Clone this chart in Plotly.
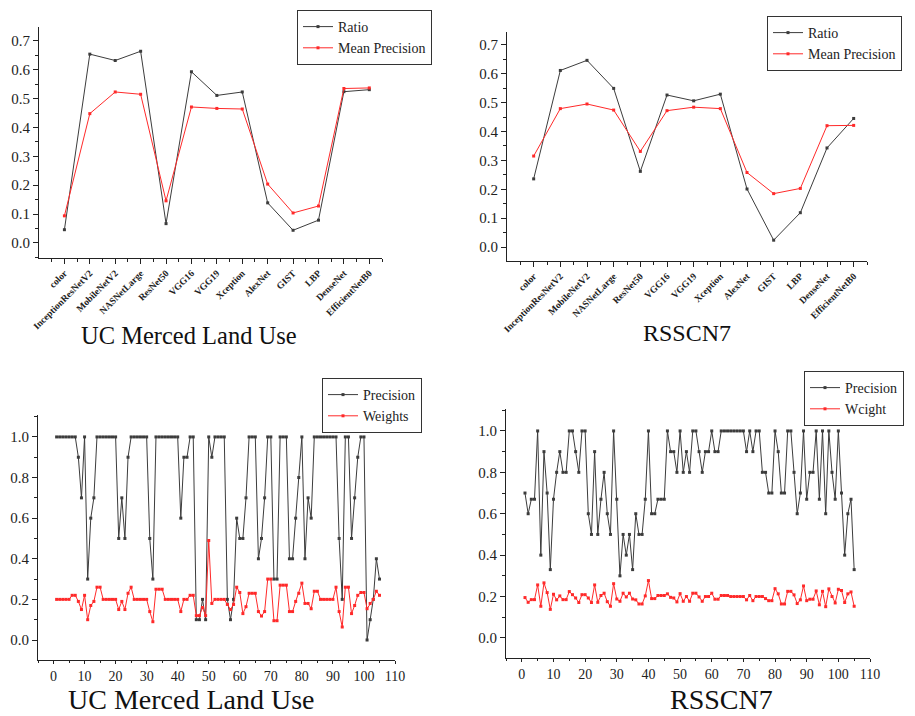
import plotly.graph_objects as go

# ---------------- data ----------------
categories = ["color", "InceptionResNetV2", "MobileNetV2", "NASNetLarge", "ResNet50",
              "VGG16", "VGG19", "Xception", "AlexNet", "GIST", "LBP", "DenseNet",
              "EfficientNetB0"]

ucm_ratio = [0.046, 0.654, 0.632, 0.664, 0.067, 0.593, 0.511, 0.523, 0.139, 0.044, 0.079, 0.524, 0.531]
ucm_mean_precision = [0.094, 0.448, 0.523, 0.515, 0.146, 0.471, 0.466, 0.464, 0.204, 0.104, 0.128, 0.535, 0.537]

rsscn7_ratio = [0.236, 0.611, 0.646, 0.549, 0.262, 0.526, 0.506, 0.529, 0.201, 0.024, 0.119, 0.343, 0.445]
rsscn7_mean_precision = [0.315, 0.479, 0.495, 0.474, 0.331, 0.472, 0.484, 0.479, 0.258, 0.185, 0.203, 0.420, 0.421]

sample_index = list(range(1, 106))

ucm_precision = [
    1.0, 1.0, 1.0, 1.0, 1.0, 1.0, 1.0, 0.9, 0.7, 1.0,
    0.3, 0.6, 0.7, 1.0, 1.0, 1.0, 1.0, 1.0, 1.0, 1.0,
    0.5, 0.7, 0.5, 0.9, 1.0, 1.0, 1.0, 1.0, 1.0, 1.0,
    0.5, 0.3, 1.0, 1.0, 1.0, 1.0, 1.0, 1.0, 1.0, 1.0,
    0.6, 0.9, 0.9, 1.0, 1.0, 0.1, 0.1, 0.2, 0.1, 1.0,
    0.9, 1.0, 1.0, 1.0, 1.0, 0.2, 0.1, 0.2, 0.6, 0.5,
    0.5, 0.7, 1.0, 1.0, 1.0, 0.4, 0.5, 0.7, 1.0, 1.0,
    0.3, 0.3, 1.0, 1.0, 1.0, 0.4, 0.4, 0.6, 0.8, 1.0,
    0.4, 0.7, 0.6, 1.0, 1.0, 1.0, 1.0, 1.0, 1.0, 1.0,
    1.0, 0.5, 0.2, 1.0, 1.0, 0.5, 0.7, 0.9, 1.0, 1.0,
    0.0, 0.1, 0.2, 0.4, 0.3]

ucm_weights = [
    0.20, 0.20, 0.20, 0.20, 0.20, 0.22, 0.22, 0.19, 0.15, 0.22,
    0.10, 0.17, 0.19, 0.26, 0.26, 0.20, 0.20, 0.20, 0.20, 0.20,
    0.15, 0.19, 0.15, 0.23, 0.26, 0.20, 0.20, 0.20, 0.20, 0.20,
    0.14, 0.09, 0.25, 0.25, 0.25, 0.20, 0.20, 0.20, 0.20, 0.20,
    0.14, 0.20, 0.20, 0.22, 0.22, 0.12, 0.12, 0.16, 0.12, 0.49,
    0.18, 0.20, 0.20, 0.20, 0.20, 0.175, 0.15, 0.175, 0.26, 0.234,
    0.13, 0.164, 0.23, 0.23, 0.23, 0.14, 0.118, 0.14, 0.30, 0.30,
    0.095, 0.095, 0.27, 0.27, 0.27, 0.14, 0.14, 0.19, 0.23, 0.28,
    0.18, 0.18, 0.154, 0.24, 0.24, 0.20, 0.20, 0.20, 0.20, 0.20,
    0.26, 0.14, 0.064, 0.26, 0.26, 0.13, 0.17, 0.22, 0.234, 0.234,
    0.154, 0.18, 0.20, 0.24, 0.22]

rsscn7_precision = [
    0.7, 0.6, 0.67, 0.67, 1.0, 0.4, 0.9, 0.7, 0.33, 0.67,
    0.8, 0.9, 0.8, 0.8, 1.0, 1.0, 0.9, 0.8, 1.0, 1.0,
    0.6, 0.5, 0.9, 0.5, 0.67, 0.8, 0.6, 0.5, 1.0, 0.67,
    0.3, 0.5, 0.4, 0.5, 0.33, 0.6, 0.5, 0.5, 0.67, 1.0,
    0.6, 0.6, 0.67, 0.67, 0.67, 1.0, 0.9, 0.9, 0.8, 1.0,
    0.8, 0.9, 0.8, 1.0, 1.0, 0.9, 0.8, 0.9, 0.9, 1.0,
    0.9, 0.9, 1.0, 1.0, 1.0, 1.0, 1.0, 1.0, 1.0, 1.0,
    0.9, 1.0, 0.9, 1.0, 1.0, 0.8, 0.8, 0.7, 0.7, 1.0,
    0.9, 0.7, 0.7, 1.0, 1.0, 0.8, 0.6, 0.7, 1.0, 0.67,
    0.8, 0.8, 1.0, 0.67, 1.0, 0.6, 1.0, 0.8, 0.67, 1.0,
    0.7, 0.4, 0.6, 0.67, 0.33]

rsscn7_weights = [
    0.195, 0.172, 0.185, 0.185, 0.256, 0.153, 0.266, 0.219, 0.138, 0.211,
    0.184, 0.203, 0.185, 0.185, 0.224, 0.209, 0.193, 0.171, 0.209, 0.209,
    0.193, 0.171, 0.256, 0.172, 0.205, 0.216, 0.175, 0.153, 0.262, 0.188,
    0.177, 0.216, 0.198, 0.216, 0.188, 0.184, 0.164, 0.164, 0.203, 0.277,
    0.190, 0.190, 0.205, 0.205, 0.205, 0.213, 0.196, 0.193, 0.174, 0.214,
    0.177, 0.200, 0.177, 0.216, 0.216, 0.198, 0.177, 0.200, 0.200, 0.216,
    0.187, 0.187, 0.205, 0.205, 0.205, 0.200, 0.200, 0.200, 0.200, 0.200,
    0.184, 0.205, 0.180, 0.200, 0.200, 0.200, 0.190, 0.180, 0.180, 0.238,
    0.213, 0.164, 0.164, 0.225, 0.225, 0.208, 0.166, 0.184, 0.251, 0.180,
    0.187, 0.187, 0.227, 0.160, 0.225, 0.151, 0.237, 0.200, 0.169, 0.235,
    0.229, 0.171, 0.213, 0.222, 0.153]

# ---------------- styling ----------------
OFF = 8                      # page body margin of the html page
W, H = 915 - OFF, 716 - OFF  # figure size that fits the window
SERIF = "Liberation Serif"
BLACK = "#3c3c3c"
RED = "#ff2a2a"

def fx(px):
    return (px - OFF) / W

def fy(py):
    return 1 - (py - OFF) / H

def px_x(a, b):
    return [fx(a), fx(b)]

def px_y(top, bottom):
    return [fy(bottom), fy(top)]

cat_pos = list(range(len(categories)))

fig = go.Figure()

def add_series(x, y, name, color, xa, ya, legend):
    fig.add_trace(go.Scatter(
        x=x, y=y, name=name, mode="lines+markers",
        line=dict(color=color, width=1),
        marker=dict(symbol="square", size=3, color=color),
        xaxis=xa, yaxis=ya, legend=legend))

add_series(cat_pos, ucm_ratio, "Ratio", BLACK, "x", "y", "legend")
add_series(cat_pos, ucm_mean_precision, "Mean Precision", RED, "x", "y", "legend")
add_series(cat_pos, rsscn7_ratio, "Ratio", BLACK, "x2", "y2", "legend2")
add_series(cat_pos, rsscn7_mean_precision, "Mean Precision", RED, "x2", "y2", "legend2")
add_series(sample_index, ucm_precision, "Precision", BLACK, "x3", "y3", "legend3")
add_series(sample_index, ucm_weights, "Weights", RED, "x3", "y3", "legend3")
add_series(sample_index, rsscn7_precision, "Precision", BLACK, "x4", "y4", "legend4")
add_series(sample_index, rsscn7_weights, "Wcight", RED, "x4", "y4", "legend4")

axis_common = dict(showline=True, linecolor="#222", linewidth=1, showgrid=False,
                   zeroline=False, ticks="outside", ticklen=5, tickcolor="#222",
                   automargin=False,
                   tickfont=dict(family=SERIF, size=15, color="#222"))

cat_axis = dict(axis_common, range=[-1, 12.5], tickmode="array", tickvals=cat_pos,
                ticktext=categories, tickangle=-45,
                tickfont=dict(family=SERIF, size=9.5, color="#222", weight="bold"),
                minor=dict(ticks="outside", ticklen=3, tickcolor="#222",
                           tickmode="array", tickvals=[p - 0.5 for p in cat_pos] + [12.5]))

ratio_y = dict(axis_common, tickmode="linear", tick0=0, dtick=0.1, tickformat=".1f",
               minor=dict(ticks="outside", ticklen=3, tickcolor="#222", dtick=0.05))

idx_x = dict(axis_common, range=[-5, 110], tickmode="linear", tick0=0, dtick=10,
             ticklen=3, tickfont=dict(family=SERIF, size=14, color="#222"),
             minor=dict(ticks="outside", ticklen=2, tickcolor="#222", dtick=5))

prec_y = dict(axis_common, tickmode="linear", tick0=0, dtick=0.2, tickformat=".1f",
              minor=dict(ticks="outside", ticklen=3, tickcolor="#222", dtick=0.1))

legend_common = dict(bgcolor="white", bordercolor="#333", borderwidth=1,
                     font=dict(family=SERIF, size=14, color="#222"),
                     xanchor="left", yanchor="top", tracegroupgap=0)

fig.update_layout(
    width=W, height=H, margin=dict(l=0, r=0, t=0, b=0, autoexpand=False),
    paper_bgcolor="white", plot_bgcolor="white",
    xaxis=dict(cat_axis, domain=px_x(39, 382), anchor="y"),
    yaxis=dict(ratio_y, domain=px_y(27, 258), range=[-0.052, 0.748], anchor="x"),
    xaxis2=dict(cat_axis, domain=px_x(507, 867), anchor="y2"),
    yaxis2=dict(ratio_y, domain=px_y(32, 261), range=[-0.048, 0.744], anchor="x2"),
    xaxis3=dict(idx_x, domain=px_x(38, 395), anchor="y3"),
    yaxis3=dict(prec_y, domain=px_y(415, 660), range=[-0.0985, 1.108], anchor="x3"),
    xaxis4=dict(idx_x, domain=px_x(506, 870), anchor="y4"),
    yaxis4=dict(prec_y, domain=px_y(409, 658), range=[-0.097, 1.106], anchor="x4"),
    legend=dict(legend_common, x=fx(297), y=fy(10)),
    legend2=dict(legend_common, x=fx(767), y=fy(16)),
    legend3=dict(legend_common, x=fx(322), y=fy(378)),
    legend4=dict(legend_common, x=fx(804), y=fy(371)),
    showlegend=True,
)

titles = [("UC Merced Land Use", 189, 335, 24.5), ("RSSCN7", 687, 333, 24),
          ("UC Merced Land Use", 191, 699, 28), ("RSSCN7", 721, 699, 28)]
for text, cx, cy, size in titles:
    fig.add_annotation(text=text, x=fx(cx), y=fy(cy), xref="paper", yref="paper",
                       xanchor="center", yanchor="middle", showarrow=False,
                       font=dict(family=SERIF, size=size, color="#111"))

fig.write_html("out.html")
